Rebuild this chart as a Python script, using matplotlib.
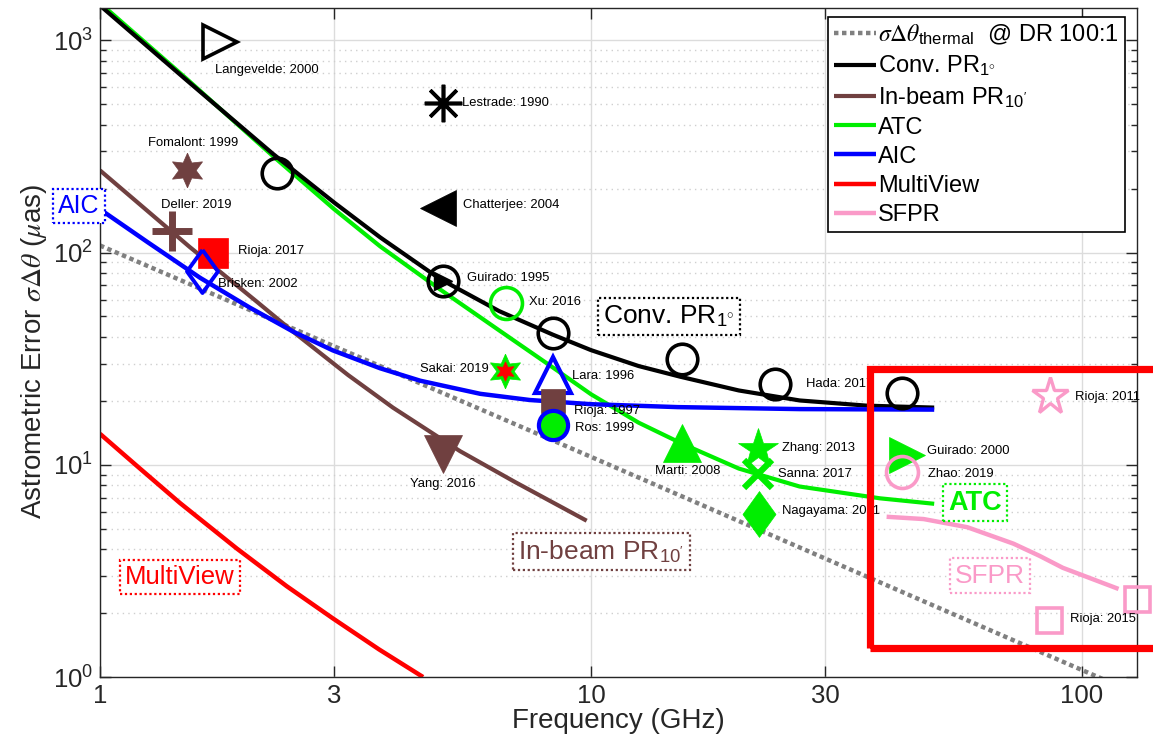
import matplotlib

matplotlib.use("Agg")

import matplotlib.pyplot as plt  # noqa: E402
from matplotlib.patches import Rectangle  # noqa: E402
from matplotlib.ticker import FixedLocator, FixedFormatter, LogLocator, NullLocator, NullFormatter  # noqa: E402

plt.rcParams.update(
    {
        "font.family": ["Liberation Sans", "DejaVu Sans"],
        "mathtext.fontset": "custom",
        "mathtext.rm": "Liberation Sans",
        "mathtext.it": "STIXGeneral:italic",
        "mathtext.bf": "Liberation Sans:bold",
        "mathtext.sf": "STIXGeneral",
        "figure.facecolor": "white",
        "axes.facecolor": "white",
    }
)

GREEN = "#00ee00"
BROWN = "#704040"
PINK = "#fa9ac8"
BLUE = "#0000ff"
RED = "#ff0000"
GRAY = "#808080"

# ---- model curves ----
freq_thermal = [1.0, 10.0, 110.0]
err_thermal = [108.0, 10.9, 0.98]

freq_conv = [1.0, 1.5, 2.25, 3.0, 3.72, 4.93, 6.5, 8.37, 10.0, 12.5, 15.2, 20.0, 26.6, 36.4, 50.0]
err_conv = [1460, 650, 292, 172, 118, 75.0, 53.0, 41.0, 34.7, 29.2, 26.0, 22.4, 20.1, 19.0, 18.6]

freq_atc = [1.0, 1.5, 2.25, 3.0, 3.72, 4.93, 6.5, 8.37, 10.0, 12.5, 15.3, 20.0, 26.6, 38.8, 50.0]
err_atc = [1500, 660, 285, 160, 107, 67.0, 43.0, 28.7, 21.5, 15.8, 12.6, 9.6, 7.9, 6.95, 6.55]

freq_aic = [1.0, 1.25, 1.6, 2.02, 2.47, 2.98, 3.72, 4.49, 5.95, 7.5, 10.0, 15.0, 26.6, 50.0]
err_aic = [160, 112, 76.0, 55.0, 42.5, 34.6, 28.5, 24.9, 21.6, 20.2, 19.3, 18.7, 18.3, 18.2]

freq_inbeam = [1.0, 1.25, 1.525, 2.09, 2.47, 3.2, 3.95, 5.41, 7.0, 9.8]
err_inbeam = [244, 157, 106, 58.5, 42.5, 26.5, 18.6, 11.6, 8.3, 5.45]

freq_mv = [1.0, 1.2, 1.456, 1.9, 2.4, 2.98, 3.7, 4.55]
err_mv = [14.0, 9.7, 6.6, 4.03, 2.68, 1.89, 1.35, 1.0]

freq_sfpr = [40.0, 47.6, 58.4, 72.5, 82.0, 91.4, 118.7]
err_sfpr = [5.69, 5.55, 5.08, 4.25, 3.72, 3.27, 2.6]

# ---- published measurements ----
study_labels = [
    "Langevelde: 2000", "Lestrade: 1990", "Chatterjee: 2004", "Fomalont: 1999",
    "Deller: 2019", "Rioja: 2017", "Brisken: 2002", "Guirado: 1995", "Hada: 2017",
    "Xu: 2016", "Sakai: 2019", "Lara: 1996", "Rioja: 1997", "Ros: 1999",
    "Yang: 2016", "Marti: 2008", "Zhang: 2013", "Sanna: 2017", "Nagayama: 2011",
    "Guirado: 2000", "Zhao: 2019", "Rioja: 2011", "Rioja: 2015",
]
study_freq = [
    1.755, 5.0, 4.88, 1.504,
    1.402, 1.699, 1.613, 5.0, 23.7,
    6.71, 6.68, 8.37, 8.37, 8.37,
    5.0, 15.32, 21.9, 21.9, 22.0,
    44.0, 43.0, 86.1, 85.7,
]
study_err = [
    979, 504, 163, 244,
    127, 100, 82.3, 73.8, 24.1,
    58.1, 27.8, 26.6, 20.0, 15.4,
    11.3, 12.6, 11.9, 9.07, 5.87,
    11.15, 9.27, 21.2, 1.857,
]

# unlabelled points
extra_conv_freq = [2.293, 8.37, 15.32, 43.0]
extra_conv_err = [238, 41.9, 31.6, 21.9]
extra_sfpr_freq = [129.4]
extra_sfpr_err = [2.33]

diamond = [(0, 1), (0.72, 0), (0, -1), (-0.72, 0), (0, 1)]
hexagram = (6, 1, 0)
asterisk = (8, 2, 0)

# marker, size, face, edge, edge width, label offset (pt), ha
study_style = [
    (">", 25, "none", "black", 2.6, (-3.6, -20), "left"),
    (asterisk, 27, "black", "black", 2.6, (13.7, 0), "left"),
    ("<", 26, "black", "black", 0.5, (18, 2), "left"),
    (hexagram, 25, BROWN, BROWN, 0.5, (4.3, 19.4), "center"),
    ("+", 29, BROWN, BROWN, 5.0, (17.5, 18.7), "center"),
    ("s", 21, RED, RED, 0.5, (18, 1.4), "left"),
    (diamond, 31, "none", BLUE, 2.8, (11.5, -9.4), "left"),
    ("o", 22, "none", "black", 2.6, (17, 2), "left"),
    ("o", 22, "none", "black", 2.6, (22, 0), "left"),
    ("o", 23, "none", GREEN, 2.6, (16.5, 0.7), "left"),
    (hexagram, 25, GREEN, GREEN, 0.5, (-12, 1.4), "right"),
    ("^", 26, "none", BLUE, 3.0, (14, -0.7), "left"),
    ("s", 17, BROWN, BROWN, 0.5, (15, -7), "left"),
    ("o", 21, GREEN, BLUE, 3.0, (16, -2), "left"),
    ("v", 28, BROWN, BROWN, 0.5, (0, -21.6), "center"),
    ("^", 27, GREEN, GREEN, 0.5, (4.3, -20), "center"),
    ("*", 30, GREEN, GREEN, 0.5, (17, 0.7), "left"),
    ("x", 20, GREEN, GREEN, 4.5, (14.4, 0), "left"),
    (diamond, 33, GREEN, GREEN, 0.5, (16.5, 2), "left"),
    (">", 26, GREEN, GREEN, 0.5, (14.4, 2.9), "left"),
    ("o", 23, "none", PINK, 2.6, (18.7, -1.4), "left"),
    ("*", 28, "none", PINK, 2.4, (18, -0.7), "left"),
    ("s", 18, "none", PINK, 2.6, (15, 0.7), "left"),
]

fig = plt.figure(figsize=(11.53, 7.43), dpi=100)
ax = fig.add_axes([0.0867, 0.0888, 0.8994, 0.9004])
ax.set_xscale("log")
ax.set_yscale("log")
ax.set_xlim(1, 129.4)
ax.set_ylim(1, 1420)

h_th, = ax.plot(freq_thermal, err_thermal, color=GRAY, lw=3.2, dashes=(1, 0.8),
                dash_capstyle="butt", zorder=2,
                label=r"$\sigma\mathsf{\Delta}\theta_{\mathrm{thermal}}$  @ DR 100:1")
line_kw = dict(solid_joinstyle="round", solid_capstyle="butt")
h_ib, = ax.plot(freq_inbeam, err_inbeam, color=BROWN, lw=3.0, zorder=2.1, label=r"In-beam PR$_{10'}$", **line_kw)
h_atc, = ax.plot(freq_atc, err_atc, color=GREEN, lw=3.0, zorder=2.2, label="ATC", **line_kw)
h_conv, = ax.plot(freq_conv, err_conv, color="black", lw=3.0, zorder=2.3, label=r"Conv. PR$_{1^{\circ}}$", **line_kw)
h_aic, = ax.plot(freq_aic, err_aic, color=BLUE, lw=3.2, zorder=2.4, label="AIC", **line_kw)
h_mv, = ax.plot(freq_mv, err_mv, color=RED, lw=3.2, zorder=2.4, label="MultiView", **line_kw)
h_sf, = ax.plot(freq_sfpr, err_sfpr, color=PINK, lw=3.2, zorder=2.4, label="SFPR", **line_kw)

ax.plot(extra_conv_freq, extra_conv_err, ls="none", marker="o", ms=22, mfc="none",
        mec="black", mew=2.6, zorder=4)
ax.plot(extra_sfpr_freq, extra_sfpr_err, ls="none", marker="s", ms=18, mfc="none",
        mec=PINK, mew=2.6, zorder=4, clip_on=False)

for lab, fx, fy, st in zip(study_labels, study_freq, study_err, study_style):
    mk, ms, fc, ec, mew, off, ha = st
    ax.plot([fx], [fy], ls="none", marker=mk, ms=ms, mfc=fc, mec=ec, mew=mew, zorder=4)
    ax.annotate(lab, (fx, fy), xytext=off, textcoords="offset points", ha=ha,
                va="center", fontsize=9.4, zorder=5)

# inner details on two composite symbols
ax.plot([6.68], [27.8], ls="none", marker=hexagram, ms=14, mfc=RED, mec=RED, mew=0.5, zorder=4.5)
ax.plot([5.0], [73.8], ls="none", marker=">", ms=13, mfc="black", mec="black", zorder=4.5)

# dotted-frame curve labels
box_labels = [
    ("AIC", 0.906, 165, BLUE, "normal", 18),
    (r"Conv. PR$_{1^{\circ}}$", 14.4, 50.0, "black", "normal", 19),
    (r"In-beam PR$_{10'}$", 10.5, 3.9, BROWN, "normal", 19),
    ("ATC", 60.6, 6.62, GREEN, "bold", 19.5),
    ("SFPR", 65.0, 3.0, PINK, "normal", 19),
    ("MultiView", 1.456, 2.96, RED, "normal", 18.5),
]
for txt, bx, by, col, wt, fs in box_labels:
    ax.text(bx, by, txt, color=col, fontsize=fs, fontweight=wt, ha="center", va="center",
            zorder=5, clip_on=False,
            bbox=dict(boxstyle="square,pad=0.2", fc="white", ec=col, ls=(0, (1, 1.2)), lw=1.6))

ax.add_patch(Rectangle((37.0, 1.37), 160 - 37.0, 28.4 - 1.37, fill=False, ec=RED, lw=5.2,
                       zorder=6, clip_on=False))

# axes styling
ax.xaxis.set_major_locator(FixedLocator([1, 3, 10, 30, 100]))
ax.xaxis.set_major_formatter(FixedFormatter(["1", "3", "10", "30", "100"]))
ax.xaxis.set_minor_locator(NullLocator())
ax.yaxis.set_major_locator(LogLocator(base=10, numticks=10))
ax.yaxis.set_minor_locator(LogLocator(base=10, subs=range(2, 10), numticks=20))
ax.yaxis.set_minor_formatter(NullFormatter())
ax.tick_params(which="both", direction="in", top=True, right=True, labelsize=18.5,
               colors="#262626", width=1.0)
ax.tick_params(which="major", length=8, pad=5)
ax.tick_params(which="minor", length=4.5)
ax.grid(which="major", color="#dcdcdc", lw=1.0, ls="-")
ax.grid(which="minor", axis="y", color="#cfcfcf", lw=1.0, ls=(0, (1, 3)))
ax.set_axisbelow(True)
for sp in ax.spines.values():
    sp.set_color("#262626")
    sp.set_linewidth(1.0)

ax.set_xlabel("Frequency (GHz)", fontsize=20, color="#262626", labelpad=0)
ax.set_ylabel(r"Astrometric Error $\sigma\mathsf{\Delta}\theta$ ($\mu$as)", fontsize=20,
              color="#262626")
ax.yaxis.set_label_coords(-0.0495, 0.486)

leg = ax.legend(handles=[h_th, h_conv, h_ib, h_atc, h_aic, h_mv, h_sf],
                loc="upper right", bbox_to_anchor=(0.988, 0.987), fontsize=17,
                frameon=True, fancybox=False, edgecolor="black", framealpha=1,
                handlelength=1.75, handletextpad=0.1, labelspacing=0.3,
                borderpad=0.25, borderaxespad=0)
leg.get_frame().set_linewidth(1.2)
leg.set_zorder(7)

fig.savefig("out.png", dpi=100)
